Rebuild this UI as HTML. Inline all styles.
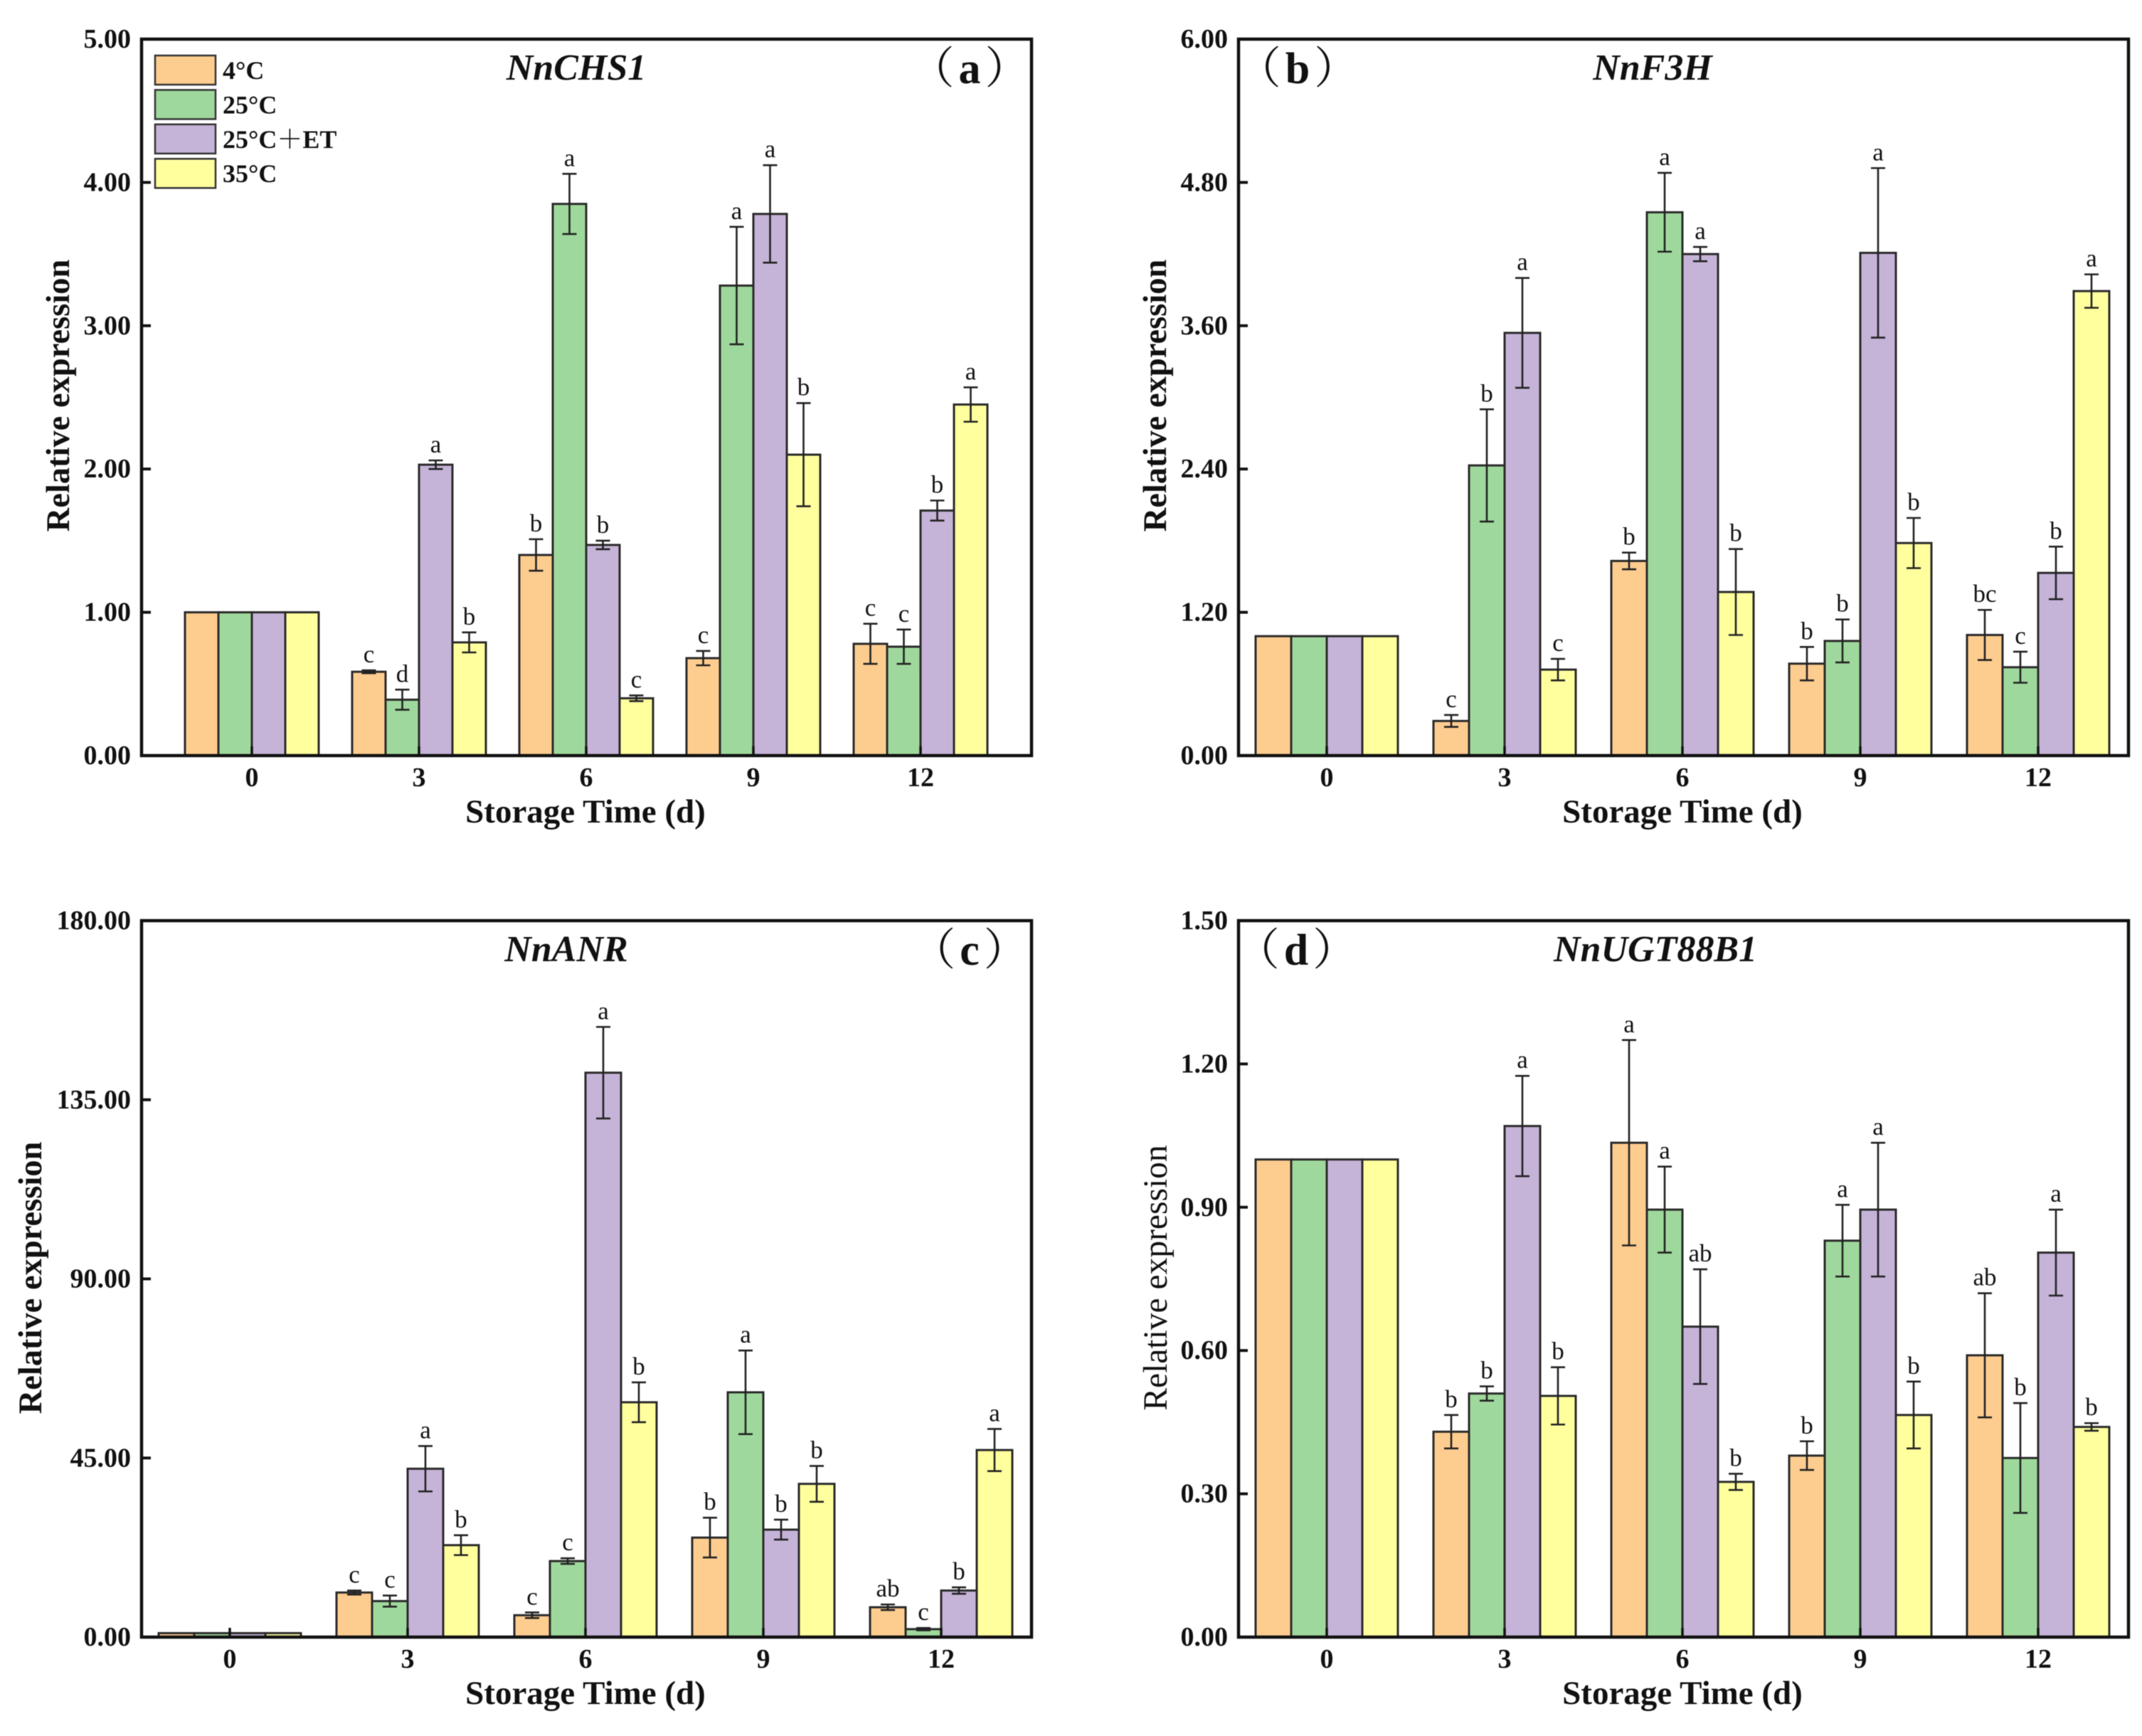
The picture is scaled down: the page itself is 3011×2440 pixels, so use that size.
<!DOCTYPE html>
<html>
<head>
<meta charset="utf-8">
<title>Relative expression of four genes during storage</title>
<style>
html,body{margin:0;padding:0;background:#fff;}
svg{display:block;filter:blur(0.6px);}
text{font-family:"Liberation Serif","Noto Serif CJK SC",serif;fill:#111;}
</style>
</head>
<body>
<svg id="figure" xmlns="http://www.w3.org/2000/svg" width="3011" height="2440" viewBox="0 0 3011 2440"></svg>
<script>
// Shared categories, series and tick labels
const days = ['0', '3', '6', '9', '12'];
const seriesNames = ['4°C', '25°C', '25°C＋ET', '35°C'];
const seriesColors = ['#FDCC8F', '#9FD89C', '#C6B3D8', '#FFFF9E'];

const chsTicks = ['0.00', '1.00', '2.00', '3.00', '4.00', '5.00'];
const f3hTicks = ['0.00', '1.20', '2.40', '3.60', '4.80', '6.00'];
const anrTicks = ['0.00', '45.00', '90.00', '135.00', '180.00'];
const ugtTicks = ['0.00', '0.30', '0.60', '0.90', '1.20', '1.50'];

// NnCHS1: rows are series, columns are days
const chsMeans = [
  [1, 0.585, 1.40, 0.68, 0.78],
  [1, 0.39, 3.85, 3.28, 0.76],
  [1, 2.03, 1.47, 3.78, 1.71],
  [1, 0.79, 0.40, 2.10, 2.45]
];
const chsErrors = [
  [0, 0.01, 0.11, 0.05, 0.14],
  [0, 0.07, 0.21, 0.41, 0.12],
  [0, 0.03, 0.03, 0.34, 0.07],
  [0, 0.07, 0.02, 0.36, 0.12]
];
const chsLetters = [
  ['', 'c', 'b', 'c', 'c'],
  ['', 'd', 'a', 'a', 'c'],
  ['', 'a', 'b', 'a', 'b'],
  ['', 'b', 'c', 'b', 'a']
];

// NnF3H
const f3hMeans = [
  [1, 0.29, 1.63, 0.77, 1.01],
  [1, 2.43, 4.55, 0.96, 0.74],
  [1, 3.54, 4.20, 4.21, 1.53],
  [1, 0.72, 1.37, 1.78, 3.89]
];
const f3hErrors = [
  [0, 0.05, 0.07, 0.14, 0.21],
  [0, 0.47, 0.33, 0.18, 0.13],
  [0, 0.46, 0.06, 0.71, 0.22],
  [0, 0.09, 0.36, 0.21, 0.14]
];
const f3hLetters = [
  ['', 'c', 'b', 'b', 'bc'],
  ['', 'b', 'a', 'b', 'c'],
  ['', 'a', 'a', 'a', 'b'],
  ['', 'c', 'b', 'b', 'a']
];

// NnANR
const anrMeans = [
  [1, 11.2, 5.5, 25, 7.5],
  [1, 9.05, 19.1, 61.5, 2],
  [1, 42.3, 141.8, 27, 11.7],
  [1, 23.1, 59, 38.5, 47]
];
const anrErrors = [
  [0, 0.5, 0.7, 5, 0.7],
  [0, 1.4, 0.7, 10.5, 0.3],
  [0, 5.7, 11.5, 2.5, 0.8],
  [0, 2.5, 5, 4.5, 5.3]
];
const anrLetters = [
  ['', 'c', 'c', 'b', 'ab'],
  ['', 'c', 'c', 'a', 'c'],
  ['', 'a', 'a', 'b', 'b'],
  ['', 'b', 'b', 'b', 'a']
];

// NnUGT88B1
const ugtMeans = [
  [1, 0.43, 1.035, 0.38, 0.59],
  [1, 0.51, 0.895, 0.83, 0.375],
  [1, 1.07, 0.65, 0.895, 0.805],
  [1, 0.505, 0.325, 0.465, 0.44]
];
const ugtErrors = [
  [0, 0.035, 0.215, 0.03, 0.13],
  [0, 0.015, 0.09, 0.075, 0.115],
  [0, 0.105, 0.12, 0.14, 0.09],
  [0, 0.06, 0.017, 0.07, 0.008]
];
const ugtLetters = [
  ['', 'b', 'a', 'b', 'ab'],
  ['', 'b', 'a', 'a', 'b'],
  ['', 'a', 'ab', 'a', 'a'],
  ['', 'b', 'b', 'b', 'b']
];

const NS = 'http://www.w3.org/2000/svg';
const fig = document.getElementById('figure');

function mk(tag, attrs, parent, txt) {
  const el = document.createElementNS(NS, tag);
  for (const k in attrs) el.setAttribute(k, attrs[k]);
  if (txt !== undefined) el.textContent = txt;
  parent.appendChild(el);
  return el;
}

function drawPanel(p) {
  const g = mk('g', {}, fig);
  
  

  const yScale = v => p.bottom - (v / p.yMax) * (p.bottom - p.top);
  const xScale = (i, j) => p.first + p.period * i + p.barW * j;

  // bars
  p.means.forEach((row, s) => {
    row.forEach((v, i) => {
      const bar = mk('rect', {
        x: xScale(i, s), y: yScale(v), width: p.barW, height: p.bottom - yScale(v),
        fill: seriesColors[s], stroke: '#2a2a2a', 'stroke-width': 3
      }, g);
      
      
    });
  });

  // error bars and significance letters
  p.means.forEach((row, s) => {
    row.forEach((v, i) => {
      const err = p.errors[s][i];
      const cx = xScale(i, s + 0.5);
      if (err > 0) {
        const yHi = yScale(v + err), yLo = yScale(v - err);
        const eb = mk('path', {
          d: 'M' + cx + ' ' + yHi + 'V' + yLo +
             'M' + (cx - 10) + ' ' + yHi + 'H' + (cx + 10) +
             'M' + (cx - 10) + ' ' + yLo + 'H' + (cx + 10),
          stroke: '#222', 'stroke-width': 2.6, fill: 'none'
        }, g);
        
        
      }
      const letter = p.letters[s][i];
      if (letter) {
        const lb = mk('text', {
          x: cx, y: yScale(v + err) - 11, 'text-anchor': 'middle', 'font-size': 35
        }, g, letter);
        
        
      }
    });
  });

  // frame
  const frame = mk('rect', {
    x: p.left, y: p.top, width: p.right - p.left, height: p.bottom - p.top,
    fill: 'none', stroke: '#111', 'stroke-width': 4.5
  }, g);
  
  

  // y ticks
  p.ticks.forEach((label) => {
    const v = parseFloat(label);
    const y = yScale(v);
    if (v > 0 && v < p.yMax) {
      const tm = mk('line', { x1: p.left, x2: p.left + 13, y1: y, y2: y, stroke: '#111', 'stroke-width': 4 }, g);
      
      
    }
    const tl = mk('text', {
      x: p.left - 15, y: y + 12, 'text-anchor': 'end', 'font-size': 38, 'font-weight': 'bold'
    }, g, label);
    
    
  });

  // x ticks
  days.forEach((d, i) => {
    const x = xScale(i, 2);
    const tm = mk('line', { x1: x, x2: x, y1: p.bottom, y2: p.bottom - 13, stroke: '#111', 'stroke-width': 3.5 }, g);
    
    
    const tl = mk('text', {
      x: x, y: p.bottom + 43, 'text-anchor': 'middle', 'font-size': 38, 'font-weight': 'bold'
    }, g, d);
    
    
  });

  // axis titles
  const xt = mk('text', {
    x: p.xTitleX, y: p.bottom + 94, 'text-anchor': 'middle', 'font-size': 47, 'font-weight': 'bold'
  }, g, 'Storage Time (d)');
  
  

  const yt = mk('text', {
    transform: 'translate(' + p.yTitleX + ' ' + p.yTitleY + ') rotate(-90)',
    'text-anchor': 'middle', 'font-size': p.yTitleBold ? 46.5 : 47.5,
    'font-weight': p.yTitleBold ? 'bold' : 'normal'
  }, g, 'Relative expression');
  
  

  // gene title
  const ti = mk('text', {
    x: p.titleX, y: p.top + 57, 'text-anchor': 'middle', 'font-size': 52,
    'font-weight': 'bold', 'font-style': 'italic'
  }, g, p.title);
  
  

  // panel letter: thin full-width parentheses around a bold letter
  const pl = mk('text', {
    x: p.tagX, y: p.top + 62, 'text-anchor': 'middle', 'font-size': 62, 'letter-spacing': 6
  }, g);
  
  
  mk('tspan', {}, pl, '（');
  mk('tspan', { 'font-weight': 'bold' }, pl, p.tag);
  mk('tspan', {}, pl, '）');
}

drawPanel({ key: 'chs', title: 'NnCHS1', tag: 'a', means: chsMeans, errors: chsErrors, letters: chsLetters,
  ticks: chsTicks, yMax: 5, left: 199, right: 1450, top: 55, bottom: 1062, first: 260, period: 235, barW: 47,
  xTitleX: 823, yTitleX: 97, yTitleY: 556, yTitleBold: true, titleX: 810, tagX: 1366 });
drawPanel({ key: 'f3h', title: 'NnF3H', tag: 'b', means: f3hMeans, errors: f3hErrors, letters: f3hLetters,
  ticks: f3hTicks, yMax: 6, left: 1741, right: 2992, top: 55, bottom: 1062, first: 1765, period: 250, barW: 50,
  xTitleX: 2365, yTitleX: 1639, yTitleY: 556, yTitleBold: true, titleX: 2323, tagX: 1827 });
drawPanel({ key: 'anr', title: 'NnANR', tag: 'c', means: anrMeans, errors: anrErrors, letters: anrLetters,
  ticks: anrTicks, yMax: 180, left: 199, right: 1450, top: 1294, bottom: 2301, first: 223, period: 250, barW: 50,
  xTitleX: 823, yTitleX: 58, yTitleY: 1796, yTitleBold: true, titleX: 796, tagX: 1366 });
drawPanel({ key: 'ugt', title: 'NnUGT88B1', tag: 'd', means: ugtMeans, errors: ugtErrors, letters: ugtLetters,
  ticks: ugtTicks, yMax: 1.5, left: 1741, right: 2992, top: 1294, bottom: 2301, first: 1765, period: 250, barW: 50,
  xTitleX: 2365, yTitleX: 1640, yTitleY: 1796, yTitleBold: false, titleX: 2327, tagX: 1825 });

// legend
const legend = mk('g', {}, fig);


seriesNames.forEach((name, i) => {
  const y = 78 + i * 48.4;
  const sw = mk('rect', { x: 218, y: y, width: 85, height: 41, fill: seriesColors[i], stroke: '#333', 'stroke-width': 2.5 }, legend);
  
  
  const tx = mk('text', { x: 313, y: y + 33, 'font-size': 36, 'font-weight': 'bold' }, legend, name);
  
  
});
</script>
</body>
</html>
